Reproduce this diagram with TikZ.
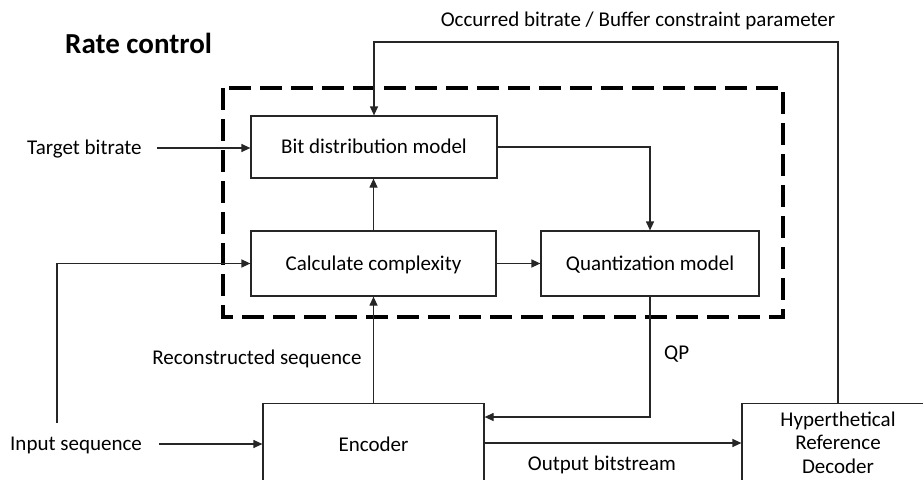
\documentclass[tikz,border=0pt]{standalone}
\usepackage{fontspec}
\setmainfont{Carlito}
\usetikzlibrary{arrows.meta}
\begin{document}
\begin{tikzpicture}[x=1pt,y=-1pt,
  every node/.style={font=\fontsize{21}{23.5}\selectfont},
  box/.style={draw=black!85, line width=1.2pt, text height=13.5pt, text depth=0pt, inner sep=0pt},
  lbl/.style={inner sep=0pt, text height=13.5pt, text depth=0pt},
  arr/.style={draw=black!85, line width=1.2pt, -{Triangle[length=9pt,width=8pt]}},
  dashbox/.style={draw=black, line width=3.2pt, dash pattern=on 22pt off 9pt}]
\useasboundingbox (0,0) rectangle (923,479);
\clip (0,0) rectangle (923,479);
\node[font=\fontsize{29}{34}\selectfont\bfseries, anchor=base west, inner sep=0pt] (title) at (65,53) {Rate control};
\draw[dashbox] (223,88) rectangle (783,317);
\node[box, minimum width=246pt, minimum height=62pt] (bd) at (374,147) {Bit distribution model};
\node[box, minimum width=245pt, minimum height=65pt] (cc) at (373.5,263.5) {Calculate complexity};
\node[box, minimum width=218pt, minimum height=65pt] (qm) at (650,263.5) {Quantization model};
\node[box, minimum width=221pt, minimum height=82pt, anchor=north] (enc) at (373.5,403) {Encoder};
\node[draw=black!85, line width=1.2pt, anchor=north, align=center, inner xsep=0pt, inner ysep=8pt, minimum width=192pt] (hrd) at (838,403) {Hyperthetical\\Reference\\Decoder};
\node[lbl, anchor=west] (tb) at (27,148) {Target bitrate};
\node[lbl, anchor=west] (is) at (10,444) {Input sequence};
\node[lbl] (rs) at (257,357.5) {Reconstructed sequence};
\node[lbl, anchor=west] (qp) at (664,353) {QP};
\node[lbl] (ob) at (602,464) {Output bitstream};
\node[lbl] (oc) at (638,19.5) {Occurred bitrate / Buffer constraint parameter};
\coordinate (top) at (600,42);
\coordinate (inp) at (57,423);
\coordinate (qpy) at (0,417);
\coordinate (oby) at (0,443);
\draw[arr, shorten <=15pt] (tb.east) -- (tb.east -| bd.west);
\draw[arr] (hrd.north) |- (top) -| (bd.north);
\draw[arr] (cc.north) -- (cc.north |- bd.south);
\draw[arr] (bd.east) -| (qm.north);
\draw[arr] (cc.east) -- (qm.west);
\draw[arr] (inp) |- (cc.west);
\draw[arr, shorten <=17pt] (is.east) -- (is.east -| enc.west);
\draw[arr] (enc.north) -- (enc.north |- cc.south);
\draw[arr] (qm.south) |- (enc.east |- qpy);
\draw[arr] (enc.east |- oby) -- (hrd.west |- oby);
\end{tikzpicture}
\end{document}
